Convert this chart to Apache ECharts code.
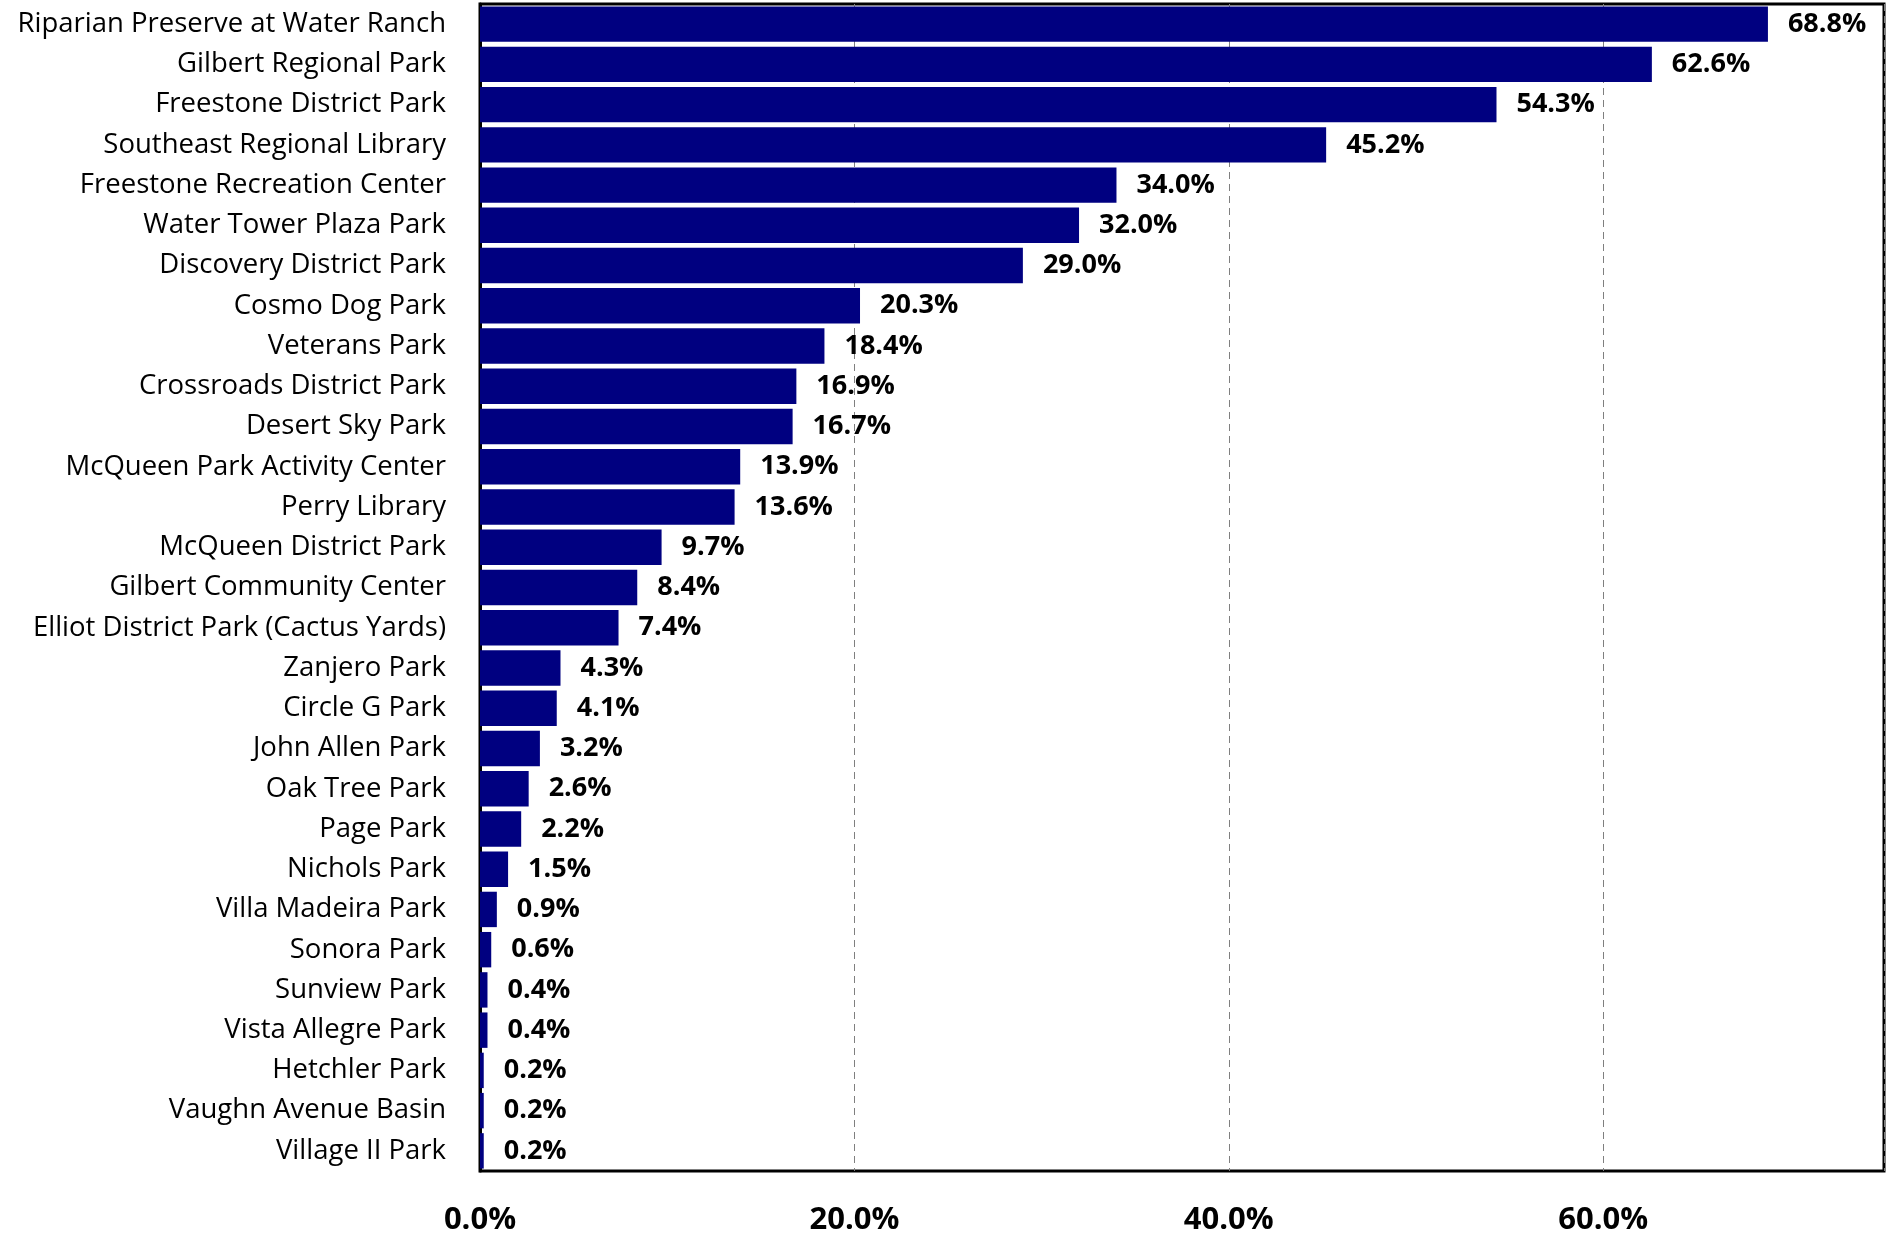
<!DOCTYPE html>
<html><head><meta charset="utf-8">
<script src="https://cdn.jsdelivr.net/npm/echarts@6/dist/echarts.min.js"></script>
<style>html,body{margin:0;padding:0;background:#fff}#c{width:1890px;height:1236px}</style>
</head><body><div id="c"></div>
<script>
const categories = ["Riparian Preserve at Water Ranch","Gilbert Regional Park","Freestone District Park","Southeast Regional Library","Freestone Recreation Center","Water Tower Plaza Park","Discovery District Park","Cosmo Dog Park","Veterans Park","Crossroads District Park","Desert Sky Park","McQueen Park Activity Center","Perry Library","McQueen District Park","Gilbert Community Center","Elliot District Park (Cactus Yards)","Zanjero Park","Circle G Park","John Allen Park","Oak Tree Park","Page Park","Nichols Park","Villa Madeira Park","Sonora Park","Sunview Park","Vista Allegre Park","Hetchler Park","Vaughn Avenue Basin","Village II Park"];
const values = [68.8,62.6,54.3,45.2,34.0,32.0,29.0,20.3,18.4,16.9,16.7,13.9,13.6,9.7,8.4,7.4,4.3,4.1,3.2,2.6,2.2,1.5,0.9,0.6,0.4,0.4,0.2,0.2,0.2];
const xTicks = [0,20,40,60];

const chart = echarts.init(document.getElementById('c'));
chart.setOption({
  animation:false,
  grid:{left:480,right:6,top:4,bottom:64,show:true,borderColor:'#000',borderWidth:3,backgroundColor:'transparent'},
  xAxis:{type:'value',min:0,max:75,interval:20,
    axisLine:{show:false},axisTick:{show:false},
    splitLine:{show:true,lineStyle:{type:[7,5],color:'#7f7f7f',width:1}},
    axisLabel:{showMaxLabel:false,margin:34,fontFamily:'Open Sans',fontWeight:'bold',fontSize:31,color:'#000',
      formatter:v=>v.toFixed(1)+'%'}},
  yAxis:{type:'category',data:categories,inverse:true,
    axisLine:{show:true,lineStyle:{color:'#000',width:3}},axisTick:{show:false},
    axisLabel:{margin:34,fontFamily:'Open Sans',fontSize:27.5,color:'#000',padding:[4,0,0,0]}},
  series:[{type:'bar',data:values,barCategoryGap:'12%',itemStyle:{color:'#000080'},
    label:{show:true,position:'right',distance:20,fontFamily:'Open Sans',fontWeight:'bold',fontSize:27,color:'#000',padding:[4,0,0,0],
      formatter:p=>p.value.toFixed(1)+'%'}}]
});
</script></body></html>
